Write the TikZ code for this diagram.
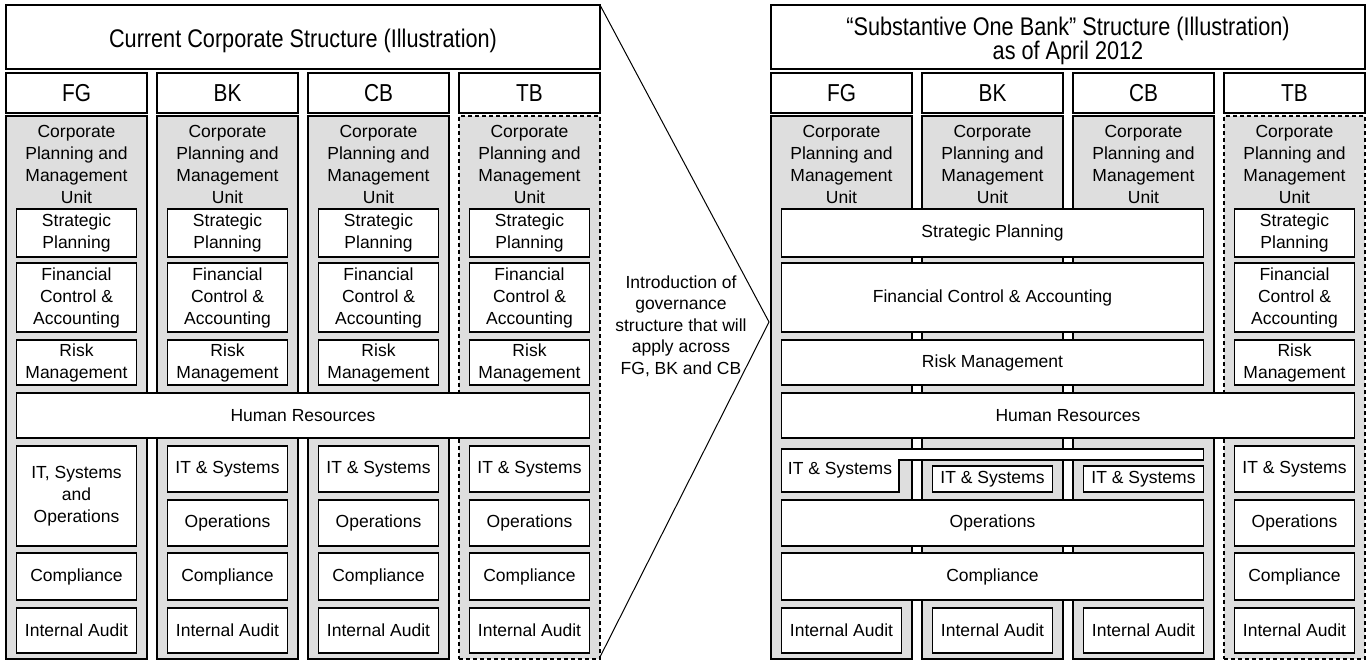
\documentclass[tikz,border=0pt]{standalone}
\usepackage{fontspec}
\setmainfont{Liberation Sans}
\newfontfamily\headfont{Liberation Sans}[FakeStretch=0.85]
\usetikzlibrary{positioning}
\definecolor{unitgray}{gray}{0.87}
\tikzset{
  box/.style={draw,line width=1.1pt,fill=white,align=center,inner sep=0pt,
    minimum width=120pt,font=\fontsize{17.5}{22}\selectfont},
  titlebox/.style={draw,line width=1.1pt,fill=white,minimum width=594pt,minimum height=64pt},
  titletext/.style={align=center,inner sep=0pt,font=\headfont\fontsize{25.5}{23.5}\selectfont},
  headbox/.style={box,minimum width=141pt,minimum height=40pt,
    font=\headfont\fontsize{24.5}{26}\selectfont},
  colbox/.style={draw,line width=1.1pt,fill=unitgray,minimum width=141pt,
    minimum height=543pt,inner sep=0pt},
  plain/.style={},
  tbline/.style={dash pattern=on 4pt off 3pt},
  unittext/.style={align=center,inner sep=0pt,font=\fontsize{17.5}{22}\selectfont}
}
\begin{document}
\begin{tikzpicture}[x=1pt,y=-1pt]
\useasboundingbox (0,0) rectangle (1370,662);
% current structure
\node[titlebox] (ltitle) at (303,37) {};
\node[titletext] (ltext) at ([yshift=-4pt]ltitle.center) {Current Corporate Structure (Illustration)};
\foreach \n/\s [count=\i from 0] in {FG/plain,BK/plain,CB/plain,TB/tbline}{
  \node[headbox] (lh\n) at (76.5+151*\i,93) {\n};
  \node[colbox,\s] (lc\n) at (76.5+151*\i,387.5) {};
  \node[unittext] (lu\n) at (76.5+151*\i,164) {Corporate\\Planning and\\Management\\Unit};
  \node[box,minimum height=48pt] (lsp\n) at (76.5+151*\i,233) {Strategic\\Planning};
  \node[box,minimum height=69pt] (lfc\n) at (76.5+151*\i,297.5) {Financial\\Control \&\\Accounting};
  \node[box,minimum height=45pt] (lrm\n) at (76.5+151*\i,362.5) {Risk\\Management};
  \node[box,minimum height=47pt] (lcp\n) at (76.5+151*\i,576.5) {Compliance};
  \node[box,minimum height=45pt] (lia\n) at (76.5+151*\i,630.5) {Internal Audit};
}
\foreach \n [count=\i from 1] in {BK,CB,TB}{
  \node[box,minimum height=46pt] (lit\n) at (76.5+151*\i,469) {IT \& Systems};
  \node[box,minimum height=46pt] (lop\n) at (76.5+151*\i,523) {Operations};
}
\node[box,minimum height=100pt] (litFG) at (76.5,496) {IT, Systems\\and\\Operations};
\node[box,minimum width=573pt,minimum height=45pt] (lhr) at (303,415.5) {Human Resources};
% arrow
\coordinate (ctop) at (600,5);
\coordinate (ctip) at (769,322);
\coordinate (cbot) at (600,657);
\draw[line width=1pt] (ctop) -- (ctip) -- (cbot);
\node[unittext,font=\fontsize{17.5}{21.5}\selectfont] (intro) at (681,326)
  {Introduction of\\governance\\structure that will\\apply across\\FG, BK and CB};
% substantive one bank
\node[titlebox] (rtitle) at (1068,37) {};
\node[titletext] (rtext) at ([yshift=-4pt]rtitle.center) {“Substantive One Bank” Structure (Illustration)\\as of April 2012};
\foreach \n/\s [count=\i from 0] in {FG/plain,BK/plain,CB/plain,TB/tbline}{
  \node[headbox] (rh\n) at (841.5+151*\i,93) {\n};
  \node[colbox,\s] (rc\n) at (841.5+151*\i,387.5) {};
  \node[unittext] (ru\n) at (841.5+151*\i,164) {Corporate\\Planning and\\Management\\Unit};
  \node[box,minimum height=45pt] (ria\n) at (841.5+151*\i,630.5) {Internal Audit};
}
\node[box,minimum height=48pt] (rspTB) at (1294.5,233) {Strategic\\Planning};
\node[box,minimum height=69pt] (rfcTB) at (1294.5,297.5) {Financial\\Control \&\\Accounting};
\node[box,minimum height=45pt] (rrmTB) at (1294.5,362.5) {Risk\\Management};
\node[box,minimum height=46pt] (ritTB) at (1294.5,469) {IT \& Systems};
\node[box,minimum height=46pt] (ropTB) at (1294.5,523) {Operations};
\node[box,minimum height=47pt] (rcpTB) at (1294.5,576.5) {Compliance};
\node[box,minimum width=422pt,minimum height=48pt] (rsp) at (992.5,233) {Strategic Planning};
\node[box,minimum width=422pt,minimum height=69pt] (rfc) at (992.5,297.5) {Financial Control \& Accounting};
\node[box,minimum width=422pt,minimum height=45pt] (rrm) at (992.5,362.5) {Risk Management};
\node[box,minimum width=573pt,minimum height=45pt] (rhr) at (1068,415.5) {Human Resources};
\node[box,minimum width=422pt,minimum height=46pt] (rop) at (992.5,523) {Operations};
\node[box,minimum width=422pt,minimum height=47pt] (rcp) at (992.5,576.5) {Compliance};
% shared IT
\draw[line width=1.1pt,fill=white] (781.5,449) -- (1203.5,449) -- (1203.5,460) -- (899,460)
  -- (899,492) -- (781.5,492) -- cycle;
\node[unittext] (ritFG) at (840,470.5) {IT \& Systems};
\node[box,minimum height=26pt] (ritBK) at (992.5,479) {IT \& Systems};
\node[box,minimum height=26pt] (ritCB) at (1143.5,479) {IT \& Systems};
\end{tikzpicture}
\end{document}
